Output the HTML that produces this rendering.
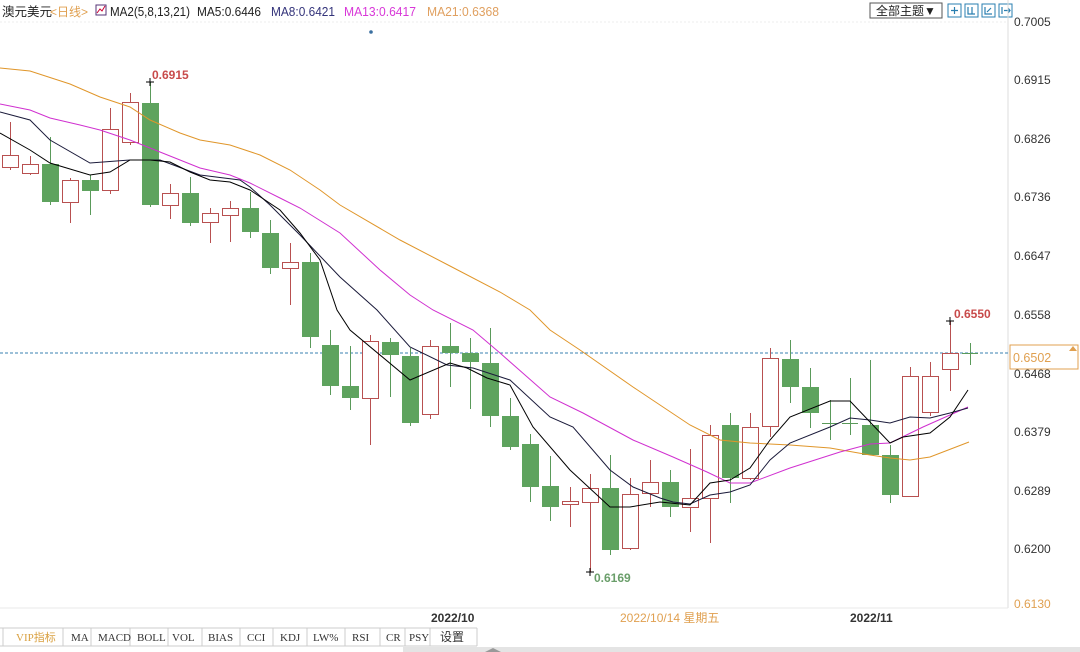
<!DOCTYPE html>
<html><head><meta charset="utf-8"><style>
body{margin:0;background:#fff;width:1080px;height:652px;overflow:hidden;font-family:"Liberation Sans","Noto Sans CJK SC",sans-serif}
</style></head><body>
<svg width="1080" height="652" xmlns="http://www.w3.org/2000/svg" style="position:absolute;left:0;top:0">
<rect width="1080" height="652" fill="#fff"/>
<text x="2" y="16" font-size="12.5" fill="#222" font-family="Liberation Sans,Noto Sans CJK SC,sans-serif">澳元美元</text>
<text x="50" y="16" font-size="12" fill="#e0a050" font-family="Liberation Sans,Noto Sans CJK SC,sans-serif">&lt;日线&gt;</text>
<rect x="96" y="5" width="10" height="10" fill="#fff" stroke="#553377"/>
<polyline points="97,13 100,9 102,11 105,6" fill="none" stroke="#c03" stroke-width="1"/>
<text x="110" y="16" font-size="12.5" fill="#222" textLength="80" lengthAdjust="spacingAndGlyphs">MA2(5,8,13,21)</text>
<text x="197" y="16" font-size="12.5" fill="#222" textLength="64" lengthAdjust="spacingAndGlyphs">MA5:0.6446</text>
<text x="271" y="16" font-size="12.5" fill="#33337a" textLength="64" lengthAdjust="spacingAndGlyphs">MA8:0.6421</text>
<text x="344" y="16" font-size="12.5" fill="#d838d8" textLength="72" lengthAdjust="spacingAndGlyphs">MA13:0.6417</text>
<text x="427" y="16" font-size="12.5" fill="#e0a060" textLength="72" lengthAdjust="spacingAndGlyphs">MA21:0.6368</text>
<circle cx="371" cy="32" r="1.8" fill="#3a6fa0"/>
<line x1="0" y1="22" x2="1008" y2="22" stroke="#eee" stroke-dasharray="2,2"/>
<rect x="870" y="3" width="72" height="15" fill="#fff" stroke="#555"/>
<text x="876" y="15" font-size="12" fill="#222" font-family="Liberation Sans,Noto Sans CJK SC,sans-serif">全部主题▼</text>
<g fill="#fff" stroke="#2a7fb0">
<rect x="948" y="4" width="13" height="13"/><rect x="965" y="4" width="13" height="13"/><rect x="982" y="4" width="13" height="13"/><rect x="999" y="4" width="13" height="13"/>
</g>
<g stroke="#2a7fb0" stroke-width="1.2" fill="none">
<path d="M951 10.5h7M954.5 7v7"/><path d="M968 7v7h7M972 7v7"/><path d="M985 7v7h7M987 12l4-4"/><path d="M1002 7v7M1004 10.5h6M1008 8l2 2.5-2 2.5"/>
</g>
<line x1="1008" y1="0" x2="1008" y2="608" stroke="#ddd"/>
<line x1="0" y1="608" x2="1008" y2="608" stroke="#e8e8e8"/>
<g font-size="12" fill="#333">
<text x="1014" y="26">0.7005</text><text x="1014" y="84">0.6915</text><text x="1014" y="143">0.6826</text>
<text x="1014" y="201">0.6736</text><text x="1014" y="260">0.6647</text><text x="1014" y="319">0.6558</text>
<text x="1014" y="378">0.6468</text><text x="1014" y="436">0.6379</text><text x="1014" y="495">0.6289</text>
<text x="1014" y="553">0.6200</text><text x="1014" y="608" fill="#e0a050">0.6130</text>
</g>
<line x1="0" y1="353" x2="1008" y2="353" stroke="#3a80b0" stroke-dasharray="3,2"/>
<rect x="1010" y="345" width="68" height="24" fill="#fff" stroke="#e0a050"/>
<text x="1013" y="362" font-size="12.5" fill="#e0a050">0.6502</text>
<path d="M1069 351l4-5 4 5z" fill="#e0a050"/>
<g>
<g stroke="#b85050" fill="#fff" stroke-width="1">
<path d="M10.5 122V170M30.5 156V175M70.5 178V223M110.5 108V194M130.5 93V145M170.5 184V219M210.5 208V243M230.5 201V242M290.5 243V305M370.5 335V445M430.5 340V419M570.5 487V527M590.5 474V572M630.5 478V550M650.5 460V507M690.5 449V532M710.5 425V543M750.5 413V480M770.5 348V437M910.5 367V496M930.5 362V416M950.5 321V391"/>
<rect x="2.5" y="155.5" width="16" height="12"/><rect x="22.5" y="164.5" width="16" height="9"/><rect x="62.5" y="180.5" width="16" height="22"/>
<rect x="102.5" y="129.5" width="16" height="61"/><rect x="122.5" y="102.5" width="16" height="40"/><rect x="162.5" y="193.5" width="16" height="12"/>
<rect x="202.5" y="213.5" width="16" height="9"/><rect x="222.5" y="208.5" width="16" height="7"/><rect x="282.5" y="262.5" width="16" height="6"/>
<rect x="362.5" y="341.5" width="16" height="57"/><rect x="422.5" y="346.5" width="16" height="68"/><rect x="562.5" y="501.5" width="16" height="3"/>
<rect x="582.5" y="488.5" width="16" height="14"/><rect x="622.5" y="494.5" width="16" height="54"/><rect x="642.5" y="482.5" width="16" height="11"/>
<rect x="682.5" y="498.5" width="16" height="9"/><rect x="702.5" y="435.5" width="16" height="63"/><rect x="742.5" y="427.5" width="16" height="51"/>
<rect x="762.5" y="358.5" width="16" height="68"/><rect x="902.5" y="376.5" width="16" height="120"/><rect x="922.5" y="376.5" width="16" height="36"/>
<rect x="942.5" y="353.5" width="16" height="16"/>
</g>
<g stroke="#5a9a5a" stroke-width="1">
<path d="M50.5 137V205M90.5 175V215M150.5 82V207M190.5 177V226M250.5 192V238M270.5 220V274M310.5 253V348M330.5 330V395M350.5 346V410M390.5 338V397M410.5 348V426M450.5 323V387M470.5 338V409M490.5 328V427M510.5 398V450M530.5 434V502M550.5 456V521M610.5 455V555M670.5 470V517M730.5 413V503M790.5 340V403M810.5 368V428M830.5 400V440M850.5 378V435M870.5 360V455M890.5 445V503M970.5 343V365M822 423.5h16M842 423.5h16M962 353.5h16"/>
</g>
<g fill="#5ea35e">
<rect x="42" y="164" width="17" height="38"/><rect x="82" y="180" width="17" height="11"/><rect x="142" y="103" width="17" height="102"/>
<rect x="182" y="193" width="17" height="30"/><rect x="242" y="208" width="17" height="24"/><rect x="262" y="233" width="17" height="35"/>
<rect x="302" y="262" width="17" height="75"/><rect x="322" y="345" width="17" height="41"/><rect x="342" y="386" width="17" height="12"/>
<rect x="382" y="342" width="17" height="13"/><rect x="402" y="356" width="17" height="67"/><rect x="442" y="346" width="17" height="7"/>
<rect x="462" y="353" width="17" height="9"/><rect x="482" y="363" width="17" height="53"/><rect x="502" y="416" width="17" height="31"/>
<rect x="522" y="444" width="17" height="43"/><rect x="542" y="486" width="17" height="21"/><rect x="602" y="488" width="17" height="62"/>
<rect x="662" y="482" width="17" height="25"/><rect x="722" y="425" width="17" height="53"/><rect x="782" y="359" width="17" height="28"/>
<rect x="802" y="387" width="17" height="26"/><rect x="862" y="425" width="17" height="30"/><rect x="882" y="455" width="17" height="40"/>
</g>
</g>
<polyline fill="none" stroke="#e0962a" stroke-width="1" points="0,68 30,71 70,84 100,97 130,107 150,120 180,133 200,140 230,145 260,155 290,170 320,190 340,205 400,240 450,266 500,292 530,310 550,330 580,350 633,387 660,405 690,425 720,440 750,443 790,445 830,448 870,455 890,458 910,460 930,457 969,442"/>
<polyline fill="none" stroke="#d030d0" stroke-width="1" points="0,104 30,110 50,118 80,125 100,130 130,140 150,148 180,160 200,168 230,175 250,183 280,198 300,208 340,233 380,270 410,295 433,310 473,330 500,353 550,397 583,413 633,440 673,457 707,472 730,483 750,483 790,468 840,452 870,444 890,443 923,427 968,407"/>
<polyline fill="none" stroke="#1a1a3a" stroke-width="1" points="0,112 30,120 50,140 90,163 130,160 160,160 200,175 240,180 250,187 270,205 300,235 340,277 377,310 410,347 447,365 473,368 510,380 550,417 573,427 610,470 633,487 660,498 673,502 690,504 710,495 730,492 750,485 770,460 790,443 830,427 850,418 870,420 890,423 910,417 930,418 950,413 968,408"/>
<polyline fill="none" stroke="#000" stroke-width="1" points="0,133 30,150 50,163 90,175 110,172 130,160 150,160 170,162 190,172 210,180 230,182 250,190 280,210 300,233 320,260 337,310 350,330 410,380 450,363 467,368 487,378 510,385 533,427 570,470 610,507 630,507 660,502 690,505 710,483 730,480 750,468 770,440 790,417 830,401 850,401 890,443 903,437 930,433 950,417 968,390"/>
<path d="M146 82h8M150 78v8M586 572h8M590 568v8M946 321h8M950 317v8" stroke="#000" stroke-width="1"/>
<text x="152" y="79" font-size="12" font-weight="bold" fill="#c84a4a">0.6915</text>
<text x="954" y="318" font-size="12" font-weight="bold" fill="#c84a4a">0.6550</text>
<text x="594" y="582" font-size="12" font-weight="bold" fill="#6a9e6a">0.6169</text>
<text x="431" y="622" font-size="12" font-weight="bold" fill="#333">2022/10</text>
<text x="620" y="622" font-size="12" fill="#e0a050" font-family="Liberation Sans,Noto Sans CJK SC,sans-serif">2022/10/14 星期五</text>
<text x="850" y="622" font-size="12" font-weight="bold" fill="#333">2022/11</text>
<line x1="0" y1="628" x2="477" y2="628" stroke="#ccc"/>
<line x1="0" y1="646" x2="477" y2="646" stroke="#ccc"/>
<g stroke="#ccc"><path d="M3 628v18M63 628v18M91 628v18M130 628v18M168 628v18M202 628v18M240 628v18M273 628v18M307 628v18M345 628v18M380 628v18M405 628v18M430 628v18M477 628v18"/></g>
<g font-size="11" fill="#333" font-family="Liberation Serif,Noto Sans CJK SC,serif">
<text x="16" y="641" fill="#d9a040">VIP指标</text>
<text x="71" y="641">MA</text><text x="98" y="641">MACD</text><text x="137" y="641">BOLL</text><text x="172" y="641">VOL</text>
<text x="208" y="641">BIAS</text><text x="247" y="641">CCI</text><text x="280" y="641">KDJ</text><text x="313" y="641">LW%</text>
<text x="352" y="641">RSI</text><text x="386" y="641">CR</text><text x="409" y="641">PSY</text><text x="440" y="641" font-size="12">设置</text>
</g>
<rect x="403" y="647" width="677" height="5" fill="#e4e4e4"/>
<path d="M485 652l8-4 8 4z" fill="#999"/>
</svg>
</body></html>
